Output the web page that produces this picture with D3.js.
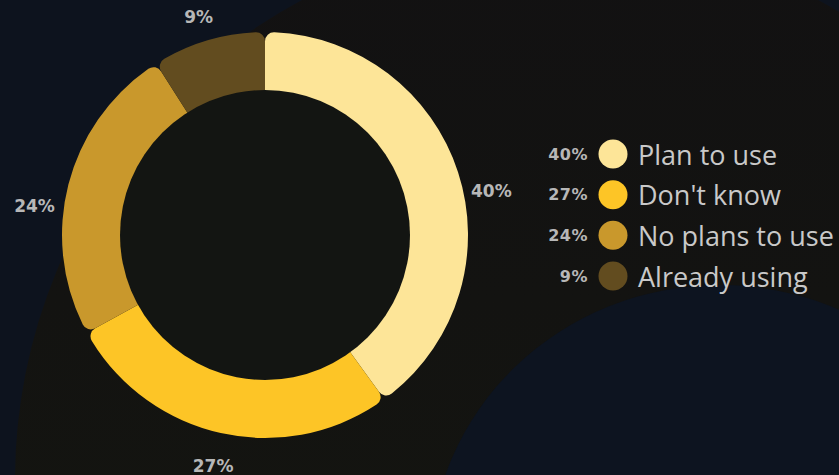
<!DOCTYPE html>
<html>
<head>
<meta charset="utf-8">
<script src="https://cdn.jsdelivr.net/npm/d3@7"></script>
<style>
  html, body { margin: 0; padding: 0; background: #0d131e; }
  svg { display: block; }
</style>
</head>
<body>
<svg id="chart" width="839" height="475"></svg>
<script>
// data
const categories = ["Plan to use", "Don't know", "No plans to use", "Already using"];
const shares = [40, 27, 24, 9];
const colors = ["#fde598", "#fdc526", "#c9982c", "#624c1f"];

const W = 839, H = 475;
const cx = 265, cy = 235;
const outerR = 203, holeR = 145;

const svg = d3.select("#chart");

// background blobs
const defs = svg.append("defs");
const g1 = defs.append("linearGradient").attr("id", "blob")
  .attr("x1", 0).attr("y1", 0).attr("x2", 0).attr("y2", 1);
g1.append("stop").attr("offset", "0%").attr("stop-color", "#121112");
g1.append("stop").attr("offset", "100%").attr("stop-color", "#15170f");

svg.append("rect").attr("width", W).attr("height", H).attr("fill", "#0d131e");
svg.append("circle").attr("cx", 560).attr("cy", 480).attr("r", 545).attr("fill", "url(#blob)");
svg.append("ellipse").attr("cx", 720).attr("cy", 565).attr("rx", 290).attr("ry", 280).attr("fill", "#0d1420");

// donut
const pie = d3.pie().sort(null).value(d => d)(shares);
const arc = d3.arc().innerRadius(120).outerRadius(outerR).cornerRadius(9);

const g = svg.append("g").attr("transform", `translate(${cx},${cy})`);
g.selectAll("path.slice")
  .data(pie)
  .join("path")
  .attr("class", "slice")
  .attr("d", arc)
  .attr("fill", (d, i) => colors[i]);

// hole on top hides the inner rounded corners
g.append("circle").attr("r", holeR).attr("fill", "#131512");

// outside labels
const labRx = 238, labRy = 232;
g.selectAll("text.lab")
  .data(pie)
  .join("text")
  .attr("class", "lab")
  .attr("x", d => labRx * Math.sin((d.startAngle + d.endAngle) / 2))
  .attr("y", d => {
    const a = (d.startAngle + d.endAngle) / 2;
    return -labRy * Math.cos(a) + 3 + 27 * Math.sin(a) * Math.sin(a);
  })
  .attr("text-anchor", "middle")
  .attr("dominant-baseline", "central")
  .attr("fill", "#b7b7b7")
  .style("font", "bold 17px 'DejaVu Sans', sans-serif")
  .text(d => d.data + "%");

// legend
const rowY = d3.scalePoint().domain(categories).range([154, 276]);
const leg = svg.append("g");
const rows = leg.selectAll("g").data(categories).join("g")
  .attr("transform", d => `translate(0,${rowY(d)})`);

rows.append("circle").attr("cx", 613).attr("r", 14.5)
  .attr("fill", (d, i) => colors[i]);
rows.append("text").attr("x", 588).attr("text-anchor", "end")
  .attr("dominant-baseline", "central")
  .attr("fill", "#b7b7b7")
  .style("font", "bold 16px 'DejaVu Sans', sans-serif")
  .style("letter-spacing", "0.5px")
  .text((d, i) => shares[i] + "%");
rows.append("text").attr("x", 638)
  .attr("dominant-baseline", "central")
  .attr("fill", "#c9c9c9")
  .style("font", "500 27px 'Open Sans', sans-serif")
  .text(d => d);
</script>
</body>
</html>
